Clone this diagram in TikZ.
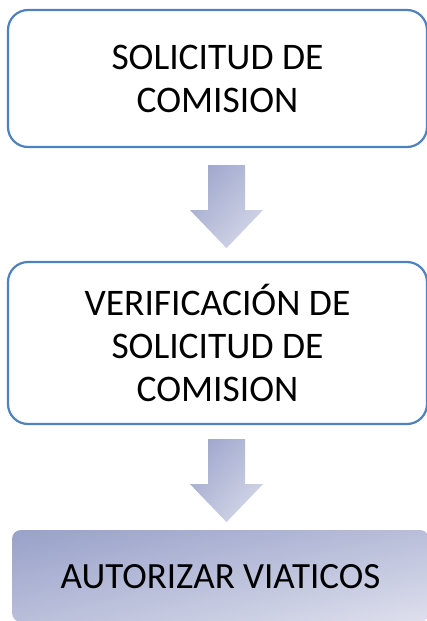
\documentclass[tikz,border=0pt]{standalone}
\usepackage{fontspec}
\setmainfont{Carlito}
\usetikzlibrary{calc,shadings}
\definecolor{boxblue}{HTML}{4F81BD}
\definecolor{shA}{HTML}{98A1C9}
\definecolor{shB}{HTML}{B9BEDA}
\definecolor{shC}{HTML}{DEE0ED}
\tikzset{
  stepbox/.style={draw=boxblue, line width=2.2pt, rounded corners=20pt, fill=white,
    align=center, font=\fontsize{37.5}{43}\selectfont, text=black, inner sep=0pt},
  downarr/.pic={
    \shade[upper left=shA, upper right=shB, lower left=shB, lower right=shC]
      (-18.5,0) -- (18.5,0) -- (18.5,45) -- (36.5,45) -- (0,83) -- (-36.5,45) -- (-18.5,45) -- cycle;
  }
}
\begin{document}
\begin{tikzpicture}[x=1pt,y=-1pt]
\useasboundingbox (0,0) rectangle (427,621);
\clip (0,0) rectangle (427,621);
\node[stepbox, minimum width=419pt, minimum height=137pt] (s1) at (217.5,78.5) {SOLICITUD DE\\COMISION};
\node[stepbox, minimum width=419pt, minimum height=162pt] (s2) at (217.5,343) {VERIFICACIÓN DE\\SOLICITUD DE\\COMISION};
\shade[upper left=shA, upper right=shB, lower left=shB, lower right=shC, rounded corners=9pt]
  (12,530) rectangle (429,622);
\node[align=center, font=\fontsize{37}{43}\selectfont, inner sep=0pt, minimum width=417pt, minimum height=92pt] (s3) at (220.5,577) {AUTORIZAR VIATICOS};
\path (s1.south) ++(9,17) pic {downarr};
\path (s2.south) ++(9,14) pic {downarr};
\end{tikzpicture}
\end{document}
